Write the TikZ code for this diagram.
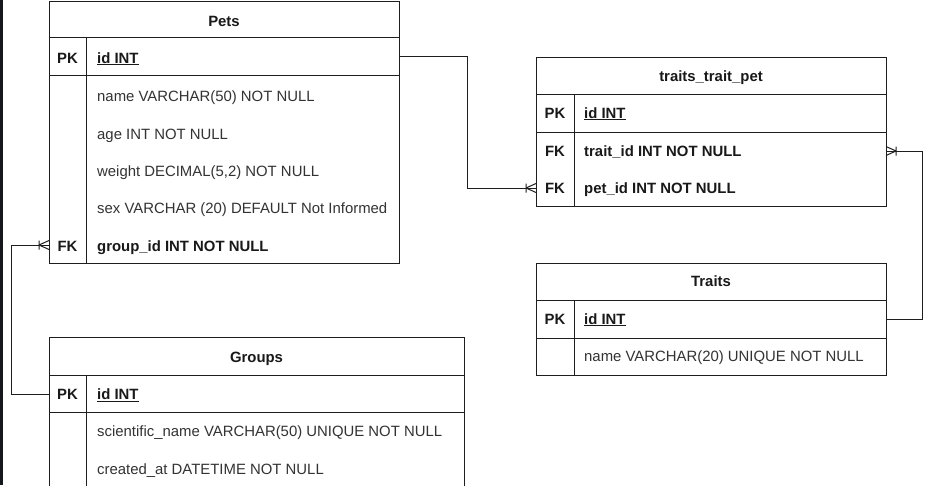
\documentclass[tikz,border=0pt]{standalone}
\usepackage{fontspec}
\setmainfont{Liberation Sans}
\usetikzlibrary{calc}
\newcommand\tblfont{\fontsize{14.9}{17}\selectfont}
\definecolor{linec}{HTML}{1E1E1E}
\definecolor{txtc}{HTML}{333333}
\definecolor{darkstrip}{HTML}{14171C}
\begin{document}
\begin{tikzpicture}[x=1pt,y=-1pt,
  frame/.style={draw=linec,line width=1pt},
  conn/.style={draw=linec,line width=1pt},
  title/.style={anchor=base,inner sep=0pt,font=\tblfont\bfseries,text=black!90},
  keylbl/.style={anchor=base,inner sep=0pt,font=\tblfont\bfseries,text=black!90},
  field/.style={anchor=base west,inner sep=0pt,font=\tblfont,text=txtc},
  bfield/.style={anchor=base west,inner sep=0pt,font=\tblfont\bfseries,text=black!90},
  rowbox/.style={inner sep=0pt,outer sep=0pt,minimum height=20pt},
  manymark/.pic={\draw[conn] (-10,0) -- (0,-4.5) (-10,0) -- (0,4.5) (-10,-4.5) -- (-10,4.5);}
]
\useasboundingbox (0,0) rectangle (933,485);
\clip (0,0) rectangle (933,485);
\fill[white] (0,0) rectangle (933,485);
\fill[darkstrip] (0,0) rectangle (3,485);

% ---------- Pets ----------
\draw[frame] (49,1) rectangle (399,263);
\draw[frame] (49,37.5) -- (399,37.5);
\draw[frame] (49,75) -- (399,75);
\draw[frame] (86,37.5) -- (86,263);
\node[title] (pets-t) at (224,26) {Pets};
\node[keylbl] (pets-k1) at (67.5,63) {PK};
\node[bfield] (pets-f1) at (97,63) {\underline{id INT}};
\node[field] (pets-f2) at (97,101) {name VARCHAR(50) NOT NULL};
\node[field] (pets-f3) at (97,139) {age INT NOT NULL};
\node[field] (pets-f4) at (97,176) {weight DECIMAL(5,2) NOT NULL};
\node[field] (pets-f5) at (97,213) {sex VARCHAR (20) DEFAULT Not Informed};
\node[keylbl] (pets-k6) at (67.5,251) {FK};
\node[bfield] (pets-f6) at (97,251) {group\_id INT NOT NULL};
\node[rowbox,minimum width=350pt] (pets-pk) at (224,56) {};
\node[rowbox,minimum width=350pt] (pets-fk) at (224,245) {};

% ---------- traits_trait_pet ----------
\draw[frame] (536,57) rectangle (886,206);
\draw[frame] (536,94) -- (886,94);
\draw[frame] (536,132) -- (886,132);
\draw[frame] (574,94) -- (574,206);
\node[title] (ttp-t) at (711,81) {traits\_trait\_pet};
\node[keylbl] (ttp-k1) at (555,118) {PK};
\node[bfield] (ttp-f1) at (584,118) {\underline{id INT}};
\node[keylbl] (ttp-k2) at (555,156) {FK};
\node[bfield] (ttp-f2) at (584,156) {trait\_id INT NOT NULL};
\node[keylbl] (ttp-k3) at (555,193) {FK};
\node[bfield] (ttp-f3) at (584,193) {pet\_id INT NOT NULL};
\node[rowbox,minimum width=350pt] (ttp-trait) at (711,151) {};
\node[rowbox,minimum width=350pt] (ttp-pet) at (711,188) {};

% ---------- Traits ----------
\draw[frame] (536,263) rectangle (886,375);
\draw[frame] (536,300) -- (886,300);
\draw[frame] (536,338) -- (886,338);
\draw[frame] (574,300) -- (574,375);
\node[title] (tr-t) at (711,286) {Traits};
\node[keylbl] (tr-k1) at (555,324) {PK};
\node[bfield] (tr-f1) at (584,324) {\underline{id INT}};
\node[field] (tr-f2) at (584,361) {name VARCHAR(20) UNIQUE NOT NULL};
\node[rowbox,minimum width=350pt] (traits-pk) at (711,319) {};

% ---------- Groups ----------
\draw[frame] (49,337) rectangle (464,490);
\draw[frame] (49,375) -- (464,375);
\draw[frame] (49,412) -- (464,412);
\draw[frame] (86,375) -- (86,490);
\node[title] (gr-t) at (256.5,362) {Groups};
\node[keylbl] (gr-k1) at (67.5,399.5) {PK};
\node[bfield] (gr-f1) at (97,399.5) {\underline{id INT}};
\node[field] (gr-f2) at (97,436.5) {scientific\_name VARCHAR(50) UNIQUE NOT NULL};
\node[field] (gr-f3) at (97,474) {created\_at DATETIME NOT NULL};
\node[rowbox,minimum width=415pt] (groups-pk) at (256.5,394) {};

% ---------- connectors ----------
\draw[conn] (pets-pk.east) -| ($(pets-pk.east)!0.5!(ttp-pet.west)$) |- (ttp-pet.west);
\pic at (ttp-pet.west) {manymark};
\draw[conn] (traits-pk.east) -- ++(36,0) |- (ttp-trait.east);
\pic[xscale=-1] at (ttp-trait.east) {manymark};
\draw[conn] (groups-pk.west) -- ++(-37.5,0) |- (pets-fk.west);
\pic at (pets-fk.west) {manymark};
\end{tikzpicture}
\end{document}
